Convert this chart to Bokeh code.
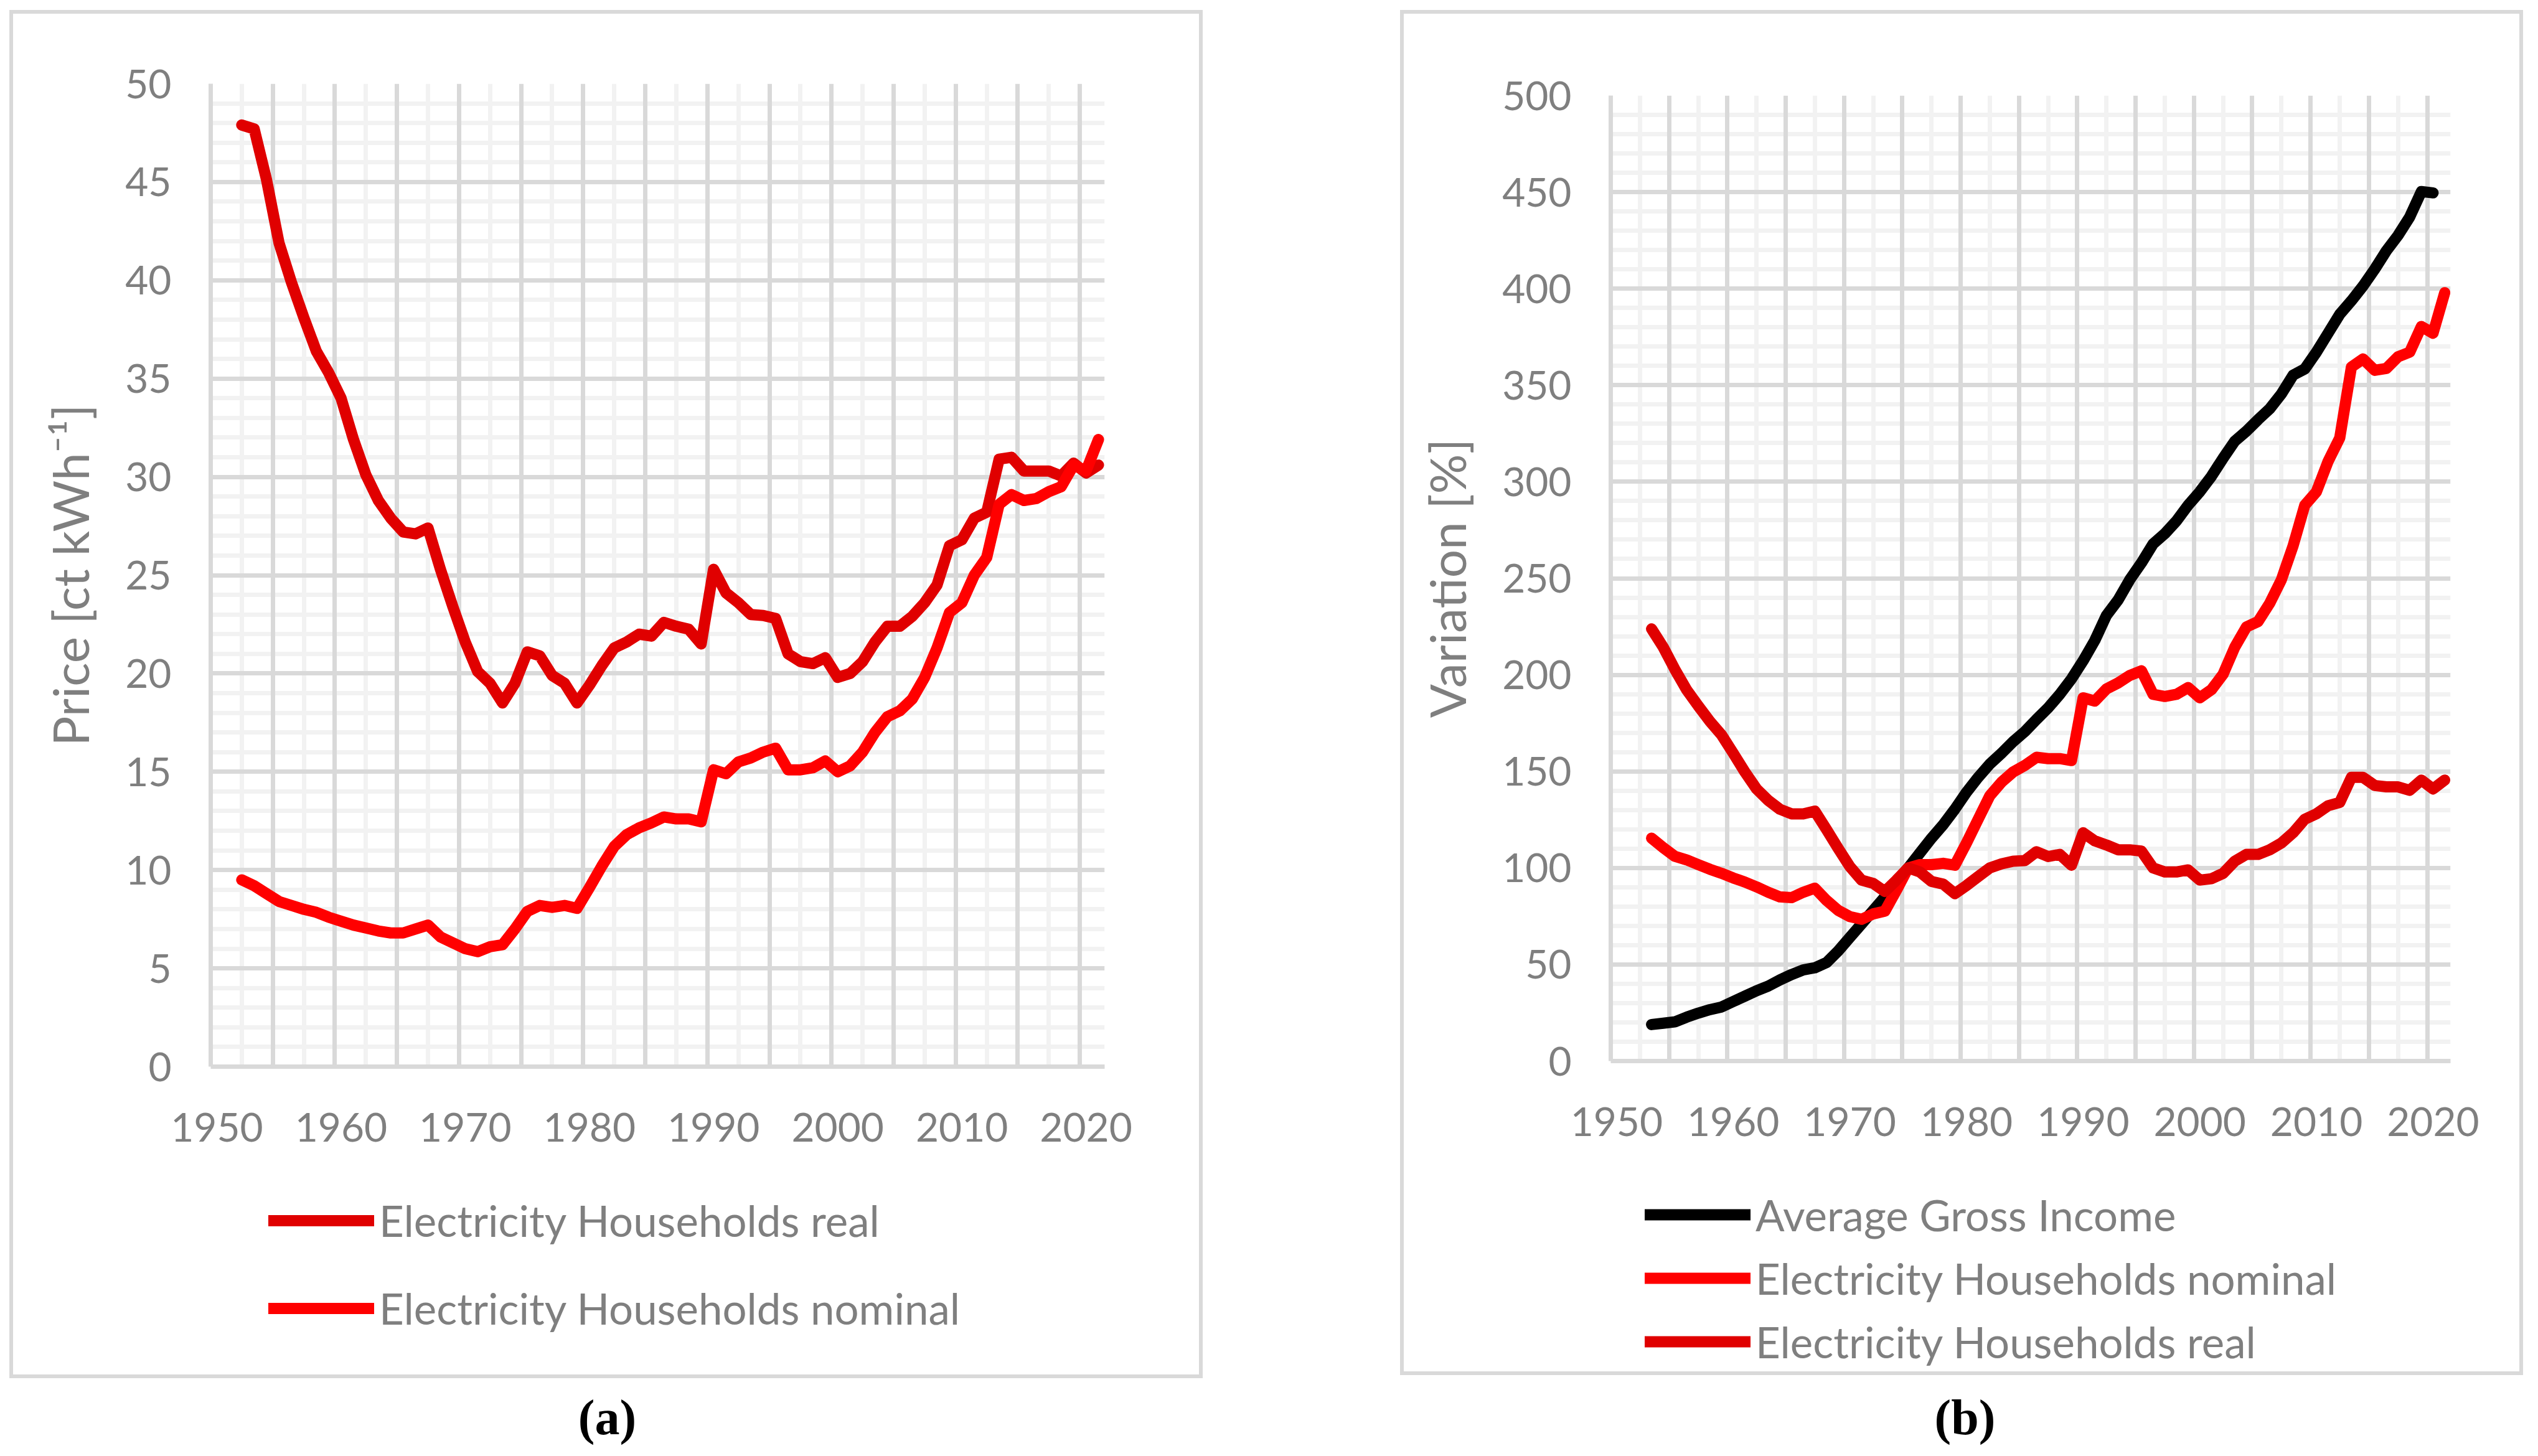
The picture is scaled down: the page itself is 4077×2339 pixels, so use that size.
from bokeh.plotting import figure
from bokeh.models import FixedTicker, Grid, Legend, LegendItem, Range1d, Spacer
from bokeh.layouts import row, column
from bokeh.core.properties import value
from bokeh.embed import file_html
from bokeh.resources import INLINE

# ---------------- data ----------------
categories = list(range(1950, 2022))          # category axis 1950..2021
x_tick_years = [1950, 1960, 1970, 1980, 1990, 2000, 2010, 2020]

# (a) price, ct/kWh
years_a = list(range(1952, 2022))
real_a = [47.9, 47.7, 45.1, 41.9, 39.9, 38.1, 36.4, 35.3, 34.0, 31.9,
          30.1, 28.8, 27.9, 27.2, 27.1, 27.4, 25.3, 23.4, 21.6, 20.1,
          19.5, 18.5, 19.5, 21.1, 20.9, 19.9, 19.5, 18.5, 19.4, 20.4,
          21.3, 21.6, 22.0, 21.9, 22.6, 22.4, 22.25, 21.5, 25.3, 24.1,
          23.6, 23.0, 22.95, 22.8, 21.0, 20.6, 20.5, 20.8, 19.8, 20.0,
          20.6, 21.6, 22.4, 22.4, 22.9, 23.6, 24.5, 26.5, 26.8, 27.9,
          28.2, 30.9, 31.0, 30.3, 30.3, 30.3, 30.05, 30.7, 30.2, 30.6]
nominal_a = [9.5, 9.2, 8.8, 8.4, 8.2, 8.0, 7.85, 7.6, 7.4, 7.2,
             7.05, 6.9, 6.8, 6.8, 7.0, 7.2, 6.6, 6.3, 6.0, 5.85,
             6.1, 6.2, 7.0, 7.9, 8.2, 8.1, 8.2, 8.05, 9.1, 10.2,
             11.2, 11.8, 12.15, 12.4, 12.7, 12.6, 12.6, 12.45, 15.1, 14.9,
             15.5, 15.7, 16.0, 16.2, 15.1, 15.1, 15.2, 15.55, 15.0, 15.3,
             16.0, 17.0, 17.8, 18.1, 18.7, 19.8, 21.3, 23.1, 23.6, 25.0,
             25.9, 28.6, 29.1, 28.8, 28.9, 29.25, 29.5, 30.6, 30.3, 31.9]
y_ticks_a = [0, 5, 10, 15, 20, 25, 30, 35, 40, 45, 50]

# (b) variation, %
years_income_b = list(range(1953, 2021))
income_b = [18.9, 19.6, 20.3, 22.7, 24.8, 26.6, 28.0, 30.8, 33.6, 36.4,
            38.8, 42.0, 44.8, 47.2, 48.3, 51.0, 57.0, 64.0, 71.0, 78.0,
            85.0, 93.0, 100.0, 107.7, 115.4, 122.4, 130.4, 139.2, 146.9, 153.8,
            159.4, 165.4, 170.6, 176.9, 182.9, 189.9, 197.9, 207.3, 217.8, 230.8,
            238.8, 249.3, 258.0, 267.8, 273.1, 279.7, 287.8, 294.8, 302.8, 312.2,
            321.0, 326.2, 332.2, 337.8, 345.5, 355.2, 358.4, 367.1, 376.9, 386.7,
            393.7, 401.4, 410.1, 419.6, 427.6, 437.1, 450.3, 449.6]
years_b = list(range(1953, 2022))
nominal_b = [115.4, 110.5, 106.0, 104.2, 101.7, 99.3, 97.2, 94.8, 92.7, 90.2,
             87.4, 85.0, 84.6, 87.4, 89.5, 83.2, 78.0, 74.8, 73.4, 76.2,
             77.6, 88.5, 100.0, 101.7, 101.7, 102.4, 101.4, 112.9, 125.2, 137.4,
             144.4, 149.7, 153.1, 157.3, 156.6, 156.6, 155.6, 188.1, 186.4, 192.7,
             195.8, 199.7, 202.1, 189.9, 188.8, 189.9, 193.4, 188.1, 192.3, 200.3,
             214.3, 224.8, 227.6, 237.1, 249.3, 266.8, 287.8, 294.8, 310.5, 322.7,
             359.4, 363.6, 357.7, 358.7, 364.7, 367.1, 380.4, 376.9, 397.9]
real_b = [223.8, 214.3, 202.8, 192.3, 183.9, 175.9, 168.9, 159.4, 149.7, 140.9,
          135.0, 130.4, 128.0, 128.0, 129.4, 119.9, 110.1, 100.7, 93.7, 92.0,
          87.8, 93.7, 100.0, 97.9, 93.0, 91.6, 86.7, 90.9, 95.5, 100.0,
          102.1, 103.5, 103.8, 108.4, 105.9, 107.0, 101.4, 118.2, 114.0, 111.9,
          109.4, 109.4, 108.7, 100.0, 97.9, 97.9, 99.0, 93.7, 94.4, 97.2,
          103.5, 107.0, 107.0, 109.4, 112.9, 118.2, 125.2, 128.0, 132.2, 133.9,
          146.9, 146.9, 142.7, 142.0, 142.0, 140.2, 145.5, 140.9, 145.5]
y_ticks_b = [0, 50, 100, 150, 200, 250, 300, 350, 400, 450, 500]

# ---------------- style ----------------
FONT = "Lato"
GRAY = "#7f7f7f"
MAJOR = "#d9d9d9"
MINOR = "#f2f2f2"
C_REAL = "#e00000"
C_NOM = "#ff0000"
C_INC = "#000000"
LW = 18
BOX_CSS = {"outline": "6px solid #d9d9d9", "outline-offset": "-6px",
           "box-shadow": "inset 0 0 0 6px #d9d9d9", "background-color": "white"}


def chart(W, H, fl, ft, fr, fb, y_ticks, y_minor_step, y_label, series):
    x0 = categories[0] - 0.5
    x1 = categories[-1] + 0.5
    p = figure(width=W, height=H,
               min_border_left=fl, min_border_top=ft,
               min_border_right=fr, min_border_bottom=fb,
               x_range=Range1d(x0, x1), y_range=Range1d(y_ticks[0], y_ticks[-1]),
               output_backend="svg", toolbar_location=None)
    p.outline_line_color = None
    p.background_fill_color = "white"
    p.border_fill_color = None

    # minor grid (drawn first)
    x_minor = [c for c in categories if (c - categories[0]) % 5 == 2 and c + 2.5 < x1]
    y_minor = [v for v in range(y_ticks[0], y_ticks[-1] + 1, y_minor_step)
               if v not in y_ticks]
    p.xgrid.ticker = FixedTicker(ticks=x_minor)
    p.ygrid.ticker = FixedTicker(ticks=y_minor)
    for g in (p.xgrid[0], p.ygrid[0]):
        g.grid_line_color = MINOR
        g.grid_line_width = 7
    # major grid: category boundaries every 5 categories
    x_major = [c - 0.5 for c in categories if (c - categories[0]) % 5 == 0 and c > categories[0]]
    p.add_layout(Grid(dimension=0, ticker=FixedTicker(ticks=x_major),
                      grid_line_color=MAJOR, grid_line_width=7), "center")
    p.add_layout(Grid(dimension=1, ticker=FixedTicker(ticks=y_ticks),
                      grid_line_color=MAJOR, grid_line_width=7), "center")

    p.xaxis.ticker = FixedTicker(ticks=x_tick_years)
    p.yaxis.ticker = FixedTicker(ticks=y_ticks)
    for ax in (p.xaxis[0], p.yaxis[0]):
        ax.axis_line_color = MAJOR
        ax.axis_line_width = 7
        ax.major_tick_line_color = None
        ax.minor_tick_line_color = None
        ax.major_label_text_font = FONT
        ax.major_label_text_font_size = "64px"
        ax.major_label_text_color = GRAY
    p.xaxis.major_label_standoff = 68
    p.yaxis.major_label_standoff = 57
    p.yaxis.axis_label = y_label
    p.yaxis.axis_label_text_font = FONT
    p.yaxis.axis_label_text_font_size = "80px"
    p.yaxis.axis_label_text_font_style = "normal"
    p.yaxis.axis_label_text_color = GRAY
    p.yaxis.axis_label_standoff = 38

    for label, xs, ys, color in series:
        p.line(xs, ys, line_color=color, line_width=LW,
               line_cap="round", line_join="round")
    return p


def legend_fig(W, H, series, loc, item_h, spacing):
    f = figure(width=W, height=H, x_range=Range1d(0, 1), y_range=Range1d(0, 1),
               x_axis_type=None, y_axis_type=None, min_border=0,
               output_backend="svg", toolbar_location=None)
    f.outline_line_color = None
    f.border_fill_color = None
    f.background_fill_color = None
    items = []
    for label, xs, ys, color in series:
        # legend key only: a line renderer without any visible point
        r = f.line(x=[float("nan")], y=[float("nan")], line_color=color,
                   line_width=LW, line_cap="round", line_join="round")
        items.append(LegendItem(label=label, renderers=[r]))
    leg = Legend(items=items, location=loc, orientation="vertical",
                 glyph_width=170, glyph_height=item_h, label_height=item_h,
                 spacing=spacing, padding=0, margin=0,
                 border_line_color=None, background_fill_alpha=0,
                 label_text_font=FONT, label_text_font_size="69px",
                 label_text_color=GRAY, label_standoff=8)
    f.add_layout(leg, "center")
    return f


def caption_fig(W, H, cx, cy, text):
    c = figure(width=W, height=H, x_range=Range1d(0, W), y_range=Range1d(0, H),
               x_axis_type=None, y_axis_type=None, min_border=0,
               output_backend="svg", toolbar_location=None)
    c.outline_line_color = None
    c.border_fill_color = None
    c.background_fill_color = None
    c.text(x=[cx], y=[cy], text=[text], text_font=value("Liberation Serif"),
           text_font_size=value("80px"), text_font_style="bold",
           text_color="black", text_align="center", text_baseline="alphabetic")
    return c


series_a = [("Electricity Households real", years_a, real_a, C_REAL),
            ("Electricity Households nominal", years_a, nominal_a, C_NOM)]
series_b = [("Average Gross Income", years_income_b, income_b, C_INC),
            ("Electricity Households nominal", years_b, nominal_b, C_NOM),
            ("Electricity Households real", years_b, real_b, C_REAL)]

# panel (a): box 1917 x 2198
pa = chart(W=1917, H=1872, fl=323, ft=118, fr=158, fb=175,
           y_ticks=y_ticks_a, y_minor_step=1, y_label="Price [ct kWh\u207b\u00b9]",
           series=series_a)
la = legend_fig(1917, 326, series_a, loc=(93, 62), item_h=101, spacing=40)
ca = caption_fig(1917, 117, 960, 55, "(a)")

# panel (b): box 1804 x 2193
pb = chart(W=1804, H=1863, fl=338, ft=137, fr=117, fb=175,
           y_ticks=y_ticks_b, y_minor_step=10, y_label="Variation [%]",
           series=series_b)
lb = legend_fig(1804, 330, series_b, loc=(55, 4), item_h=100, spacing=2)
cb = caption_fig(1804, 122, 907, 55, "(b)")

box_a = column(pa, la, spacing=0, styles=BOX_CSS)
box_b = column(pb, lb, spacing=0, styles=BOX_CSS)
col_a = column(Spacer(width=1917, height=16), box_a, ca, spacing=0)
col_b = column(Spacer(width=1804, height=16), box_b, cb, spacing=0)
layout = row(Spacer(width=15, height=10), col_a, Spacer(width=317, height=10), col_b,
             spacing=0)
open("out.html", "w").write(file_html(layout, INLINE))
